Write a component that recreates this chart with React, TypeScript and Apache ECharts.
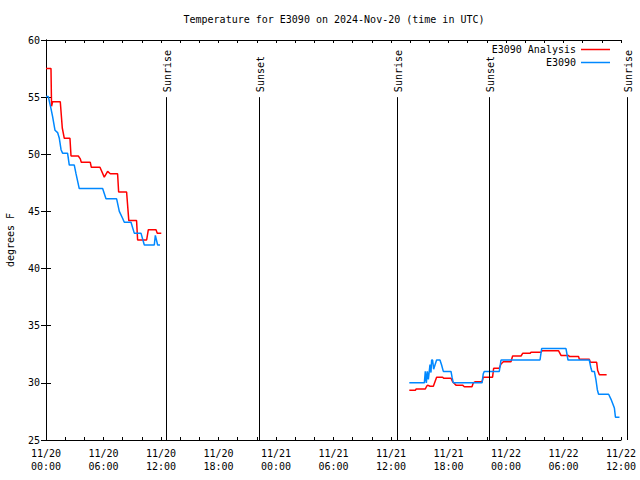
import React, { useEffect, useRef } from "react";
import * as echarts from "echarts";

// Hours since 2024-11-20 00:00 UTC
const baseMonth = 11;
const baseDay = 20;
const xMin = 0;
const xMax = 60;
const xInterval = 6;

const yMin = 25;
const yMax = 60;
const yInterval = 5;

const chartTitle = "Temperature for E3090 on 2024-Nov-20 (time in UTC)";
const yTitle = "degrees F";

const analysisName = "E3090 Analysis";
const obsName = "E3090";

// E3090 Analysis (red); null marks the data gap
const analysisTimes = [
  0.0, 0.52, 0.58, 0.69, 1.49, 1.7, 1.91, 2.5, 2.61, 3.37, 3.58, 3.68, 4.62, 4.73, 5.63,
  6.08, 6.43, 6.71, 7.47, 7.58, 8.41, 8.64, 9.45, 9.56, 10.5, 10.68, 11.48, 11.61, 12.03,
  25.0,
  37.91, 38.54, 38.61, 39.58, 39.72, 39.82, 40.07, 40.42, 40.59, 40.76, 41.39, 41.49, 42.26,
  42.43, 42.78, 43.47, 43.65, 44.45, 44.59, 44.8, 45.5, 45.63, 46.6, 46.71, 47.3, 47.48,
  47.72, 48.52, 48.69, 49.57, 49.74, 50.51, 50.61, 51.65, 51.76, 53.49, 53.74, 54.53, 54.61,
  55.58, 55.65, 56.69, 56.8, 57.46, 57.56, 57.74, 58.5,
];
const analysisTemps = [
  57.5, 57.5, 54.2, 54.6, 54.6, 52.3, 51.4, 51.4, 49.85, 49.85, 49.6, 49.3, 49.3, 48.86, 48.86,
  48.0, 48.5, 48.3, 48.3, 46.7, 46.7, 44.2, 44.2, 42.5, 42.5, 43.4, 43.4, 43.1, 43.1,
  null,
  29.35, 29.35, 29.46, 29.46, 29.7, 29.8, 29.7, 29.7, 30.1, 30.5, 30.5, 30.4, 30.4,
  30.1, 29.8, 29.8, 29.66, 29.66, 30.0, 30.1, 30.1, 30.5, 30.5, 31.27, 31.27, 31.65,
  31.85, 31.85, 32.35, 32.35, 32.58, 32.58, 32.67, 32.67, 32.8, 32.8, 32.4, 32.4, 32.3,
  32.3, 32.06, 32.06, 31.8, 31.8, 31.1, 30.7, 30.7,
];

// E3090 observations (blue); null marks the data gap
const obsTimes = [
  0.0, 0.24, 0.52, 0.69, 0.94, 1.21, 1.39, 1.57, 1.73, 2.25, 2.43, 2.95, 3.13, 3.47, 5.91,
  6.26, 7.37, 7.65, 7.99, 8.17, 8.87, 9.21, 9.91, 10.26, 11.3, 11.41, 11.65, 11.9,
  25.0,
  37.91, 39.48, 39.58, 39.69, 39.79, 39.9, 40.07, 40.17, 40.24, 40.34, 40.45, 40.59, 40.76,
  41.11, 41.28, 41.46, 42.26, 42.37, 42.5, 45.5, 45.63, 45.74, 47.3, 47.48, 51.55, 51.72,
  54.26, 54.47, 56.69, 56.87, 56.97, 57.22, 57.39, 57.53, 57.66, 58.71, 58.96, 59.13, 59.31,
  59.42, 59.84,
];
const obsTemps = [
  55.05, 55.05, 54.0, 53.3, 52.1, 51.9, 51.4, 50.4, 50.1, 50.1, 49.06, 49.06, 48.3, 47.0, 47.0,
  46.1, 46.1, 45.0, 44.4, 44.05, 44.05, 43.1, 43.1, 42.06, 42.06, 42.9, 42.06, 42.06,
  null,
  30.0, 30.0, 31.0, 30.0, 31.0, 30.3, 31.6, 30.9, 32.0, 32.0, 31.2, 31.56, 32.0,
  32.0, 31.56, 31.0, 31.0, 30.5, 30.0, 30.0, 30.8, 31.0, 31.0, 32.0, 32.0, 33.0,
  33.0, 32.0, 32.0, 31.27, 31.0, 31.0, 30.25, 29.4, 29.0, 29.0, 28.56, 28.2, 27.8,
  27.0, 27.0,
];

// Sun events (hours since base)
const sunLabels = ["Sunrise", "Sunset", "Sunrise", "Sunset", "Sunrise"];
const sunTimes = [12.55, 22.19, 36.59, 46.19, 60.66];
const sunLineTop = 55;

const FONT = '"DejaVu Sans Mono", "Liberation Mono", monospace';

const pad2 = (n: number) => (n < 10 ? "0" + n : "" + n);

export default function App() {
  const ref = useRef<HTMLDivElement>(null);

  useEffect(() => {
    if (!ref.current) return;
    const chart = echarts.init(ref.current, null, { renderer: "svg" });

    const zip = (xs: number[], ys: (number | null)[]) =>
      xs.map((x, i) => [x, ys[i] === null ? "-" : ys[i]]);

    const xLabel = (v: number) => {
      const day = baseDay + Math.floor(v / 24);
      const hh = Math.round(v % 24);
      return `${baseMonth}/${day}\n${pad2(hh)}:00`;
    };

    const axisLine = { show: true, lineStyle: { color: "#000", width: 1 } };

    const option: any = {
      animation: false,
      backgroundColor: "#fff",
      grid: { left: 46, right: 19, top: 40, bottom: 40, containLabel: false },
      graphic: [
        {
          type: "text",
          x: 334,
          y: 19,
          style: {
            text: chartTitle,
            align: "center",
            verticalAlign: "middle",
            font: `10px ${FONT}`,
            fill: "#000",
          },
        },
        {
          type: "text",
          x: 10,
          y: 240,
          rotation: Math.PI / 2,
          style: {
            text: yTitle,
            align: "center",
            verticalAlign: "middle",
            font: `10px ${FONT}`,
            fill: "#000",
          },
        },
      ],
      legend: {
        orient: "vertical",
        align: "right",
        right: 30,
        top: 44,
        padding: 0,
        itemGap: 2,
        itemWidth: 29,
        itemHeight: 1.5,
        icon: "rect",
        textStyle: { fontFamily: FONT, fontSize: 10, color: "#000", lineHeight: 11 },
        data: [analysisName, obsName],
      },
      xAxis: [
        {
          type: "value",
          position: "bottom",
          min: xMin,
          max: xMax,
          interval: xInterval,
          axisLine,
          axisTick: { show: true, inside: true, length: 3, lineStyle: { color: "#000" } },
          minorTick: { show: true, splitNumber: 3, length: 3, lineStyle: { color: "#000" } },
          splitLine: { show: false },
          minorSplitLine: { show: false },
          axisLabel: {
            formatter: xLabel,
            fontFamily: FONT,
            fontSize: 10,
            color: "#000",
            lineHeight: 13,
            margin: 7,
            showMinLabel: true,
            showMaxLabel: true,
          },
        },
        {
          type: "value",
          position: "top",
          min: xMin,
          max: xMax,
          interval: xInterval,
          axisLine,
          axisTick: { show: true, inside: true, length: 3, lineStyle: { color: "#000" } },
          minorTick: { show: true, splitNumber: 3, length: 3, lineStyle: { color: "#000" } },
          splitLine: { show: false },
          axisLabel: { show: false },
        },
      ],
      yAxis: [
        {
          type: "value",
          position: "left",
          min: yMin,
          max: yMax,
          interval: yInterval,
          axisLine,
          axisTick: { show: true, inside: true, length: 5, lineStyle: { color: "#000" } },
          splitLine: { show: false },
          axisLabel: { fontFamily: FONT, fontSize: 10, color: "#000", margin: 6 },
        },
        {
          type: "value",
          position: "right",
          min: yMin,
          max: yMax,
          interval: yInterval,
          axisLine,
          axisTick: { show: true, inside: true, length: 5, lineStyle: { color: "#000" } },
          splitLine: { show: false },
          axisLabel: { show: false },
        },
      ],
      series: [
        {
          name: analysisName,
          type: "line",
          xAxisIndex: 0,
          yAxisIndex: 0,
          symbol: "none",
          connectNulls: false,
          lineStyle: { color: "#ff0000", width: 1.5 },
          itemStyle: { color: "#ff0000" },
          data: zip(analysisTimes, analysisTemps),
          z: 3,
        },
        {
          name: obsName,
          type: "line",
          xAxisIndex: 0,
          yAxisIndex: 0,
          symbol: "none",
          connectNulls: false,
          lineStyle: { color: "#0088ff", width: 1.5 },
          itemStyle: { color: "#0088ff" },
          data: zip(obsTimes, obsTemps),
          z: 4,
        },
        {
          name: "sun",
          type: "custom",
          xAxisIndex: 0,
          yAxisIndex: 0,
          clip: false,
          silent: true,
          z: 5,
          data: sunTimes.map((t, i) => [t, i]),
          encode: { x: 0 },
          renderItem: (params: any, api: any) => {
            const t = api.value(0);
            const top = api.coord([t, sunLineTop]);
            const bottom = api.coord([t, yMin]);
            const lx = Math.round(top[0]) + 0.5;
            return {
              type: "group",
              children: [
                {
                  type: "line",
                  shape: { x1: lx, y1: top[1], x2: lx, y2: bottom[1] },
                  style: { stroke: "#000", lineWidth: 1 },
                },
                {
                  type: "text",
                  x: lx + 1,
                  y: top[1] - 5,
                  rotation: Math.PI / 2,
                  style: {
                    text: sunLabels[params.dataIndex],
                    align: "left",
                    verticalAlign: "middle",
                    font: `10px ${FONT}`,
                    fill: "#000",
                  },
                },
              ],
            };
          },
        },
      ],
    };

    chart.setOption(option);
    return () => chart.dispose();
  }, []);

  return <div ref={ref} style={{ width: 640, height: 480, position: "absolute", left: 0, top: 0 }} />;
}
